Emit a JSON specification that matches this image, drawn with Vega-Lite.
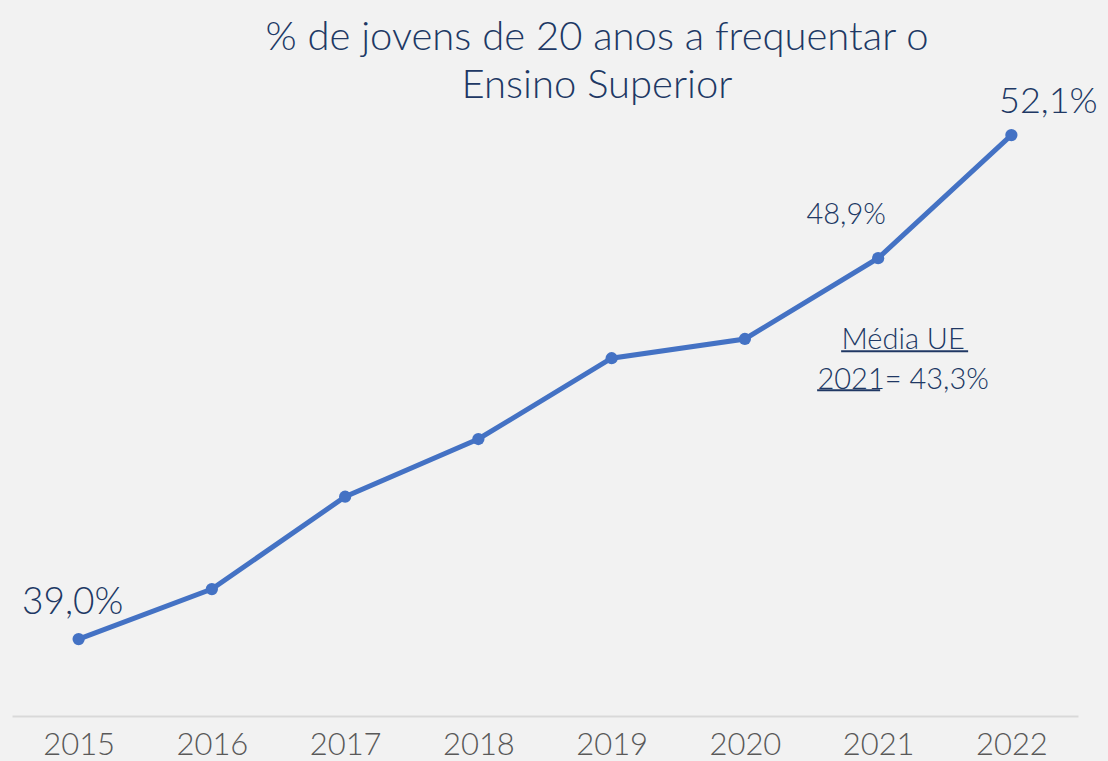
{
  "$schema": "https://vega.github.io/schema/vega-lite/v6.json",
  "width": 1066,
  "height": 654,
  "autosize": {"type": "none"},
  "padding": {"left": 12, "top": 62, "right": 30, "bottom": 45},
  "background": "#f2f2f2",
  "config": {"view": {"stroke": null}, "font": "Lato"},
  "title": {
    "text": ["% de jovens de 20 anos a frequentar  o", "Ensino Superior"],
    "anchor": "middle",
    "offset": -44,
    "dx": 52,
    "fontSize": 40,
    "font": "Lato",
    "fontWeight": 300,
    "color": "#203864",
    "lineHeight": 48
  },
  "data": {
    "values": [
      {"year": "2015", "value": 39.0, "label": "39,0%"},
      {"year": "2016", "value": 40.3, "label": ""},
      {"year": "2017", "value": 42.7, "label": ""},
      {"year": "2018", "value": 44.2, "label": ""},
      {"year": "2019", "value": 46.3, "label": ""},
      {"year": "2020", "value": 46.8, "label": ""},
      {"year": "2021", "value": 48.9, "label": "48,9%"},
      {"year": "2022", "value": 52.1, "label": "52,1%"}
    ]
  },
  "encoding": {
    "x": {
      "field": "year",
      "type": "ordinal",
      "scale": {"type": "point", "padding": 0.5},
      "axis": {
        "title": null,
        "labelAngle": 0,
        "labelFontSize": 31,
        "labelFont": "Lato",
        "labelFontWeight": 300,
        "labelColor": "#595959",
        "labelPadding": 14,
        "ticks": false,
        "domainColor": "#d9d9d9",
        "domainWidth": 2,
        "grid": false
      }
    },
    "y": {
      "field": "value",
      "type": "quantitative",
      "scale": {"domain": [37, 54], "zero": false},
      "axis": null
    }
  },
  "layer": [
    {
      "mark": {"type": "line", "color": "#4472c4", "strokeWidth": 5}
    },
    {
      "mark": {"type": "point", "filled": true, "color": "#4472c4", "size": 150, "opacity": 1}
    },
    {
      "transform": [{"filter": "datum.year == '2015'"}],
      "mark": {"type": "text", "fontSize": 37, "fontWeight": 300, "color": "#203864", "dx": -6, "dy": -25, "baseline": "alphabetic"},
      "encoding": {"text": {"field": "label"}}
    },
    {
      "transform": [{"filter": "datum.year == '2022'"}],
      "mark": {"type": "text", "fontSize": 36, "fontWeight": 300, "color": "#203864", "dx": 37, "dy": -22, "baseline": "alphabetic"},
      "encoding": {"text": {"field": "label"}}
    },
    {
      "transform": [{"filter": "datum.year == '2021'"}],
      "mark": {"type": "text", "fontSize": 29, "fontWeight": 300, "color": "#203864", "dx": -32, "dy": -34, "baseline": "alphabetic"},
      "encoding": {"text": {"field": "label"}}
    },
    {
      "transform": [{"filter": "datum.year == '2021'"}],
      "mark": {"type": "text", "fontSize": 29, "fontWeight": 300, "color": "#203864", "dx": 25, "dy": 91, "baseline": "alphabetic", "lineHeight": 40, "text": ["Média UE", "2021= 43,3%"]}
    },
    {
      "transform": [{"filter": "datum.year == '2021'"}],
      "mark": {"type": "rule", "color": "#203864", "strokeWidth": 2, "xOffset": -37, "x2Offset": 90, "yOffset": 93},
      "encoding": {"x2": {"field": "year"}}
    },
    {
      "transform": [{"filter": "datum.year == '2021'"}],
      "mark": {"type": "rule", "color": "#203864", "strokeWidth": 2, "xOffset": -61, "x2Offset": 2, "yOffset": 132},
      "encoding": {"x2": {"field": "year"}}
    }
  ]
}
